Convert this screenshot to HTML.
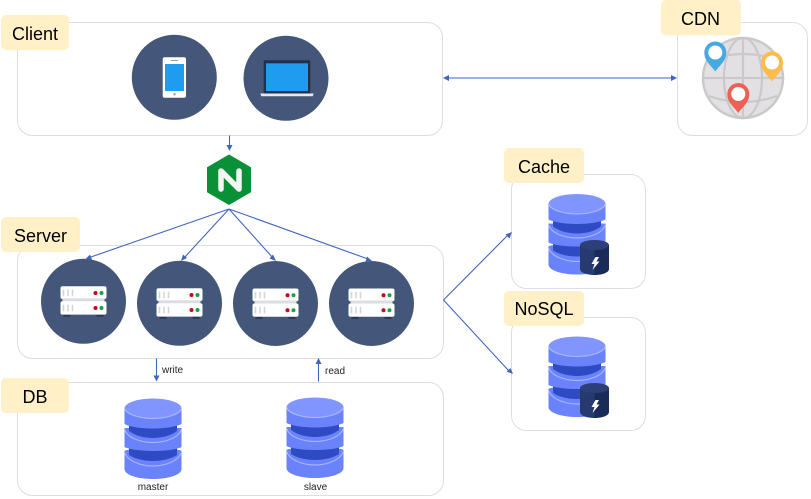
<!DOCTYPE html>
<html><head><meta charset="utf-8"><style>
html,body{margin:0;padding:0;background:#fff}
svg{display:block}
text{font-family:"Liberation Sans",sans-serif;fill:#000}
.l{font-size:18px;text-anchor:middle}
.s{font-size:10px;fill:#222}
.b{fill:#fff;stroke:#dedede;stroke-width:1}
.t{fill:#FFF0C8}
.a{stroke:#3f66bf;stroke-width:1.1;fill:none}
.h{fill:#3f66bf}
</style></head><body>
<svg width="811" height="499" viewBox="0 0 811 499" xmlns="http://www.w3.org/2000/svg">
<defs>
<g id="db">
<path d="M-28.500,53 V71 C-28.500,77 -15,81 0,81 S28.500,77 28.500,71 V53 C28.500,50 -28.500,50 -28.500,53z" fill="#6a83fb"/>
<path d="M-28.500,54 C-26,63 -12,68 0,68 S26,63 28.500,54" fill="none" stroke="#a6b5ff" stroke-width="1.200"/>
<path d="M-24,44 V57 C-18,61 -9,63 0,63 S18,61 24,57 V44z" fill="#2f4bc4"/>
<path d="M-28.500,30 V49 C-24,51.500 -12,53 0,53 S24,51.500 28.500,49 V30z" fill="#6a83fb"/>
<path d="M-28.500,31 C-26,40 -12,44.500 0,44.500 S26,40 28.500,31" fill="none" stroke="#a6b5ff" stroke-width="1.200"/>
<path d="M-24,20 V33 C-18,37.500 -9,40 0,40 S18,37.500 24,33 V20z" fill="#2f4bc4"/>
<path d="M-28.500,10.500 V26 C-24,28.500 -12,30.500 0,30.500 S24,28.500 28.500,26 V10.500z" fill="#6a83fb"/>
<ellipse cx="0" cy="10.500" rx="28.500" ry="10" fill="#8095ff"/>
<path d="M-28.500,10.500 C-26,17 -12,20.500 0,20.500 S26,17 28.500,10.500" fill="none" stroke="#a6b5ff" stroke-width="1.200"/>
</g>
<g id="mini">
<path d="M-14.500,5 V29 C-14.500,32.500 -8,35 0,35 V5z" fill="#263a70"/>
<path d="M0,5 H14.500 V29 C14.500,32.500 8,35 0,35z" fill="#1b2b59"/>
<ellipse cx="0" cy="5" rx="14.500" ry="5" fill="#2c3f78"/>
<path d="M1,17 L-3,24 H0 L-2,30 L5,21.500 H2 L4.500,17z" fill="#fff"/>
</g>
<g id="srv">
<circle r="42.500" fill="#445679"/>
<rect x="-20" y="13" width="7" height="2.500" fill="#2c3a55"/><rect x="13" y="13" width="7" height="2.500" fill="#2c3a55"/>
<rect x="-23" y="-15" width="46" height="12.700" rx="2" fill="#fff"/>
<rect x="-21" y="-3" width="42" height="3.500" fill="#dcdde0"/>
<rect x="-23" y="0" width="46" height="13.300" rx="2" fill="#fff"/>
<path d="M-20,-11.700v6.700M-15.500,-11.700v6.700M-11,-11.700v6.700M-20,3.300v6.700M-15.500,3.300v6.700M-11,3.300v6.700" stroke="#d5d5d5" stroke-width="1.600"/>
<circle cx="12" cy="-8.300" r="2" fill="#d0021b"/><circle cx="18" cy="-8.300" r="2" fill="#16a34a"/>
<circle cx="12" cy="6.700" r="2" fill="#d0021b"/><circle cx="18" cy="6.700" r="2" fill="#16a34a"/>
</g>
<g id="pin">
<path d="M0,15 C-4,9 -11,5 -11,-4 A11,11 0 0 1 11,-4 C11,5 4,9 0,15z"/>
<circle cx="0" cy="-4" r="7" fill="#fff"/>
</g>
</defs>

<rect class="b" x="17.500" y="22.500" width="425" height="113" rx="15"/>
<rect class="b" x="677.500" y="22.500" width="130" height="113" rx="15"/>
<rect class="b" x="17.500" y="245.500" width="426" height="113" rx="15"/>
<rect class="b" x="17.500" y="382.500" width="426" height="113" rx="15"/>
<rect class="b" x="511.500" y="174.500" width="134" height="114" rx="15"/>
<rect class="b" x="511.500" y="317.500" width="134" height="113" rx="15"/>

<rect class="t" x="1" y="15" width="68" height="35" rx="5"/>
<text class="l" x="35" y="40">Client</text>
<rect class="t" x="661" y="0" width="80" height="35.500" rx="5"/>
<text class="l" x="700.500" y="25">CDN</text>
<rect class="t" x="1" y="217" width="79" height="35" rx="5"/>
<text class="l" x="40.500" y="242">Server</text>
<rect class="t" x="1" y="378" width="68" height="35" rx="5"/>
<text class="l" x="35" y="403">DB</text>
<rect class="t" x="504" y="148" width="80" height="35" rx="5"/>
<text class="l" x="544" y="173">Cache</text>
<rect class="t" x="504" y="291" width="80" height="35" rx="5"/>
<text class="l" x="544" y="315">NoSQL</text>

<!-- client icons -->
<circle cx="174.300" cy="77.300" r="42.500" fill="#445679"/>
<rect x="162.700" y="57.300" width="23.300" height="40.400" rx="2" fill="#fff"/>
<rect x="165" y="64" width="19" height="27" fill="#1f9cf0"/>
<circle cx="174.500" cy="94.300" r="1.200" fill="#999"/>
<rect x="171" y="60" width="7" height="1" fill="#999"/>
<circle cx="286" cy="78.300" r="42.500" fill="#445679"/>
<rect x="263.700" y="60.300" width="46.600" height="33.500" rx="1.500" fill="#232f4b"/>
<rect x="266" y="63.300" width="42" height="27.700" fill="#1f9cf0"/>
<path d="M260.300,93.500 H313.700 L312.700,96.300 H261.300z" fill="#e8e8e8"/>

<!-- CDN globe -->
<circle cx="743" cy="78" r="40" fill="#e3e0e4" stroke="#c9c9c9" stroke-width="2.500"/>
<g fill="none" stroke="#c9c9c9" stroke-width="2.200">
<ellipse cx="743" cy="78" rx="19" ry="40"/>
<path d="M743,38V118M703,78H783M709,60Q743,48 777,60M709,96Q743,108 777,96"/>
</g>
<use href="#pin" x="715.300" y="56.500" fill="#45a9e2"/>
<use href="#pin" x="772" y="66.500" fill="#fdbb4e"/>
<use href="#pin" x="738.300" y="98" fill="#ec6155"/>

<!-- nginx -->
<path d="M229,155 L250.500,167.500 V192 L229,204.500 L207.500,192 V167.500z" fill="#0a9138" stroke="#0a9138" stroke-width="1" stroke-linejoin="round"/>
<path d="M221,189 V171 L239,189 V171" fill="none" stroke="#f4f6f4" stroke-width="5.500" stroke-linecap="round" stroke-linejoin="round"/>

<!-- servers -->
<use href="#srv" x="83.500" y="301.300"/>
<use href="#srv" x="179.500" y="303.300"/>
<use href="#srv" x="275.500" y="303.500"/>
<use href="#srv" x="371.500" y="303.500"/>

<!-- DBs -->
<use href="#db" x="153" y="398"/>
<use href="#db" x="315" y="397"/>
<use href="#db" x="577" y="193.500"/>
<use href="#mini" x="594.500" y="240"/>
<use href="#db" x="577" y="336"/>
<use href="#mini" x="594.500" y="383"/>

<text class="s" x="153" y="490" text-anchor="middle">master</text>
<text class="s" x="315.500" y="490" text-anchor="middle">slave</text>
<text class="s" x="162" y="373">write</text>
<text class="s" x="325" y="374">read</text>

<!-- connectors -->
<path class="a" d="M229.500,135.500V147M447,78H673M229,209L88,258M229,209L184,258M229,209L273,258M229,209L368,259M443.500,300L508,235M443.500,300L509,371M156.500,358.500V377M318.500,381.500V362"/>
<path class="h" d="M229.500,151l-3,-6h6z"/>
<path class="h" d="M443,78l6,-3v6z"/>
<path class="h" d="M677,78l-6,-3v6z"/>
<path class="h" d="M85,259.500l5,-5 2,5z"/>
<path class="h" d="M181,261l2,-6.500 4,3.500z"/>
<path class="h" d="M276,261l-6.500,-2.500 3.500,-4z"/>
<path class="h" d="M372,261l-6.500,.5 1.500,-5z"/>
<path class="h" d="M512,232l-2.500,6.500 -4,-4z"/>
<path class="h" d="M513,374l-6.500,-2.500 4,-3.500z"/>
<path class="h" d="M156.500,381.500l-3,-6h6z"/>
<path class="h" d="M318.500,358l-3,6h6z"/>
</svg>
</body></html>
